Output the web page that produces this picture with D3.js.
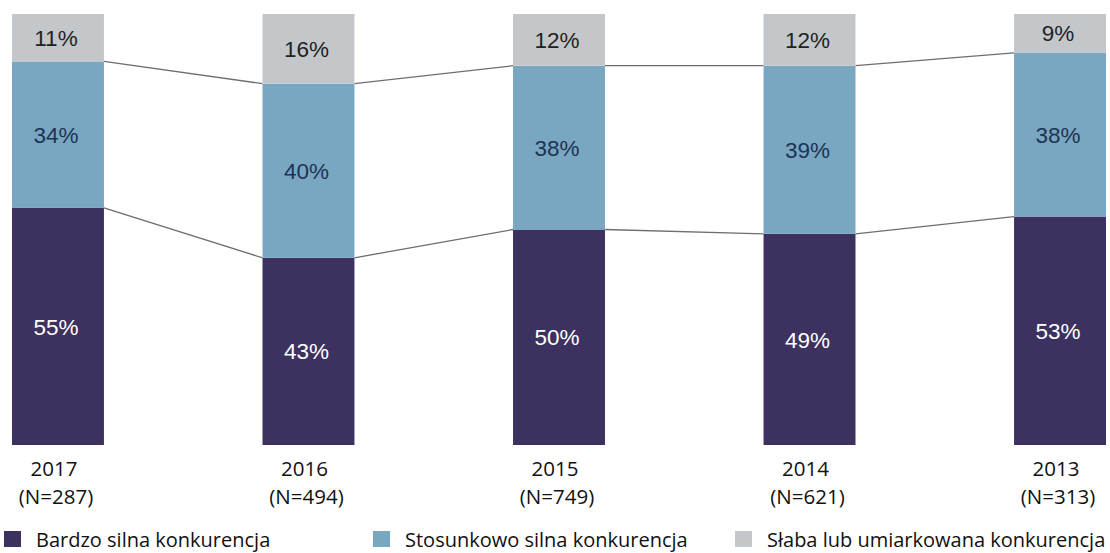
<!DOCTYPE html>
<html>
<head>
<meta charset="utf-8">
<script src="https://cdn.jsdelivr.net/npm/d3@7"></script>
<style>
  html, body { margin: 0; padding: 0; background: #fff; }
  svg { display: block; }
</style>
</head>
<body>
<svg id="chart" width="1110" height="553"></svg>
<script>
// Survey years and sample sizes
const years = ["2017", "2016", "2015", "2014", "2013"];
const sampleSizes = ["(N=287)", "(N=494)", "(N=749)", "(N=621)", "(N=313)"];

// Share of answers per competition level (%)
const veryStrong = [55, 43, 50, 49, 53];
const fairlyStrong = [34, 40, 38, 39, 38];
const weakOrModerate = [11, 16, 12, 12, 9];

const seriesNames = ["Bardzo silna konkurencja", "Stosunkowo silna konkurencja", "Słaba lub umiarkowana konkurencja"];
const seriesColors = ["#3d3160", "#79a7c1", "#c4c7ca"];
const labelColors = ["#ffffff", "#1d3354", "#222222"];

const keys = ["veryStrong", "fairlyStrong", "weakOrModerate"];
const rows = years.map((y, i) => ({
  year: y,
  veryStrong: veryStrong[i],
  fairlyStrong: fairlyStrong[i],
  weakOrModerate: weakOrModerate[i]
}));

const svg = d3.select("#chart");

const x = d3.scaleBand()
  .domain(years)
  .range([12, 1106])
  .paddingInner(0.633)
  .paddingOuter(0);

const y = d3.scaleLinear().domain([0, 1]).range([445, 14]);

// 100% stacked columns
const stacked = d3.stack().keys(keys).offset(d3.stackOffsetExpand)(rows);

// Connector lines between adjacent columns at segment boundaries
const connectors = [];
[0, 1].forEach(level => {
  for (let i = 0; i < rows.length - 1; i++) {
    connectors.push({
      x1: x(rows[i].year) + x.bandwidth(),
      y1: y(stacked[level][i][1]),
      x2: x(rows[i + 1].year),
      y2: y(stacked[level][i + 1][1])
    });
  }
});

svg.append("g")
  .selectAll("line")
  .data(connectors)
  .join("line")
  .attr("x1", d => d.x1).attr("y1", d => d.y1)
  .attr("x2", d => d.x2).attr("y2", d => d.y2)
  .attr("stroke", "#6e6e6e")
  .attr("stroke-width", 1.3);

const layers = svg.append("g")
  .selectAll("g")
  .data(stacked)
  .join("g")
  .attr("fill", (d, i) => seriesColors[i]);

layers.selectAll("rect")
  .data(d => d)
  .join("rect")
  .attr("x", d => x(d.data.year))
  .attr("width", x.bandwidth())
  .attr("y", d => y(d[1]))
  .attr("height", d => y(d[0]) - y(d[1]));

// Percentage labels inside each segment
const labelLayers = svg.append("g")
  .selectAll("g")
  .data(stacked)
  .join("g")
  .attr("fill", (d, i) => labelColors[i]);

labelLayers.selectAll("text")
  .data(d => d.map(v => ({ v, key: d.key })))
  .join("text")
  .attr("x", d => x(d.v.data.year) + x.bandwidth() / 2 - 2)
  .attr("y", d => (y(d.v[0]) + y(d.v[1])) / 2)
  .attr("dy", "0.36em")
  .attr("text-anchor", "middle")
  .style("font-family", "'Liberation Sans', Arial, sans-serif")
  .style("font-size", "22.5px")
  .text(d => d.v.data[d.key] + "%");

// Category axis: year and sample size
const axis = svg.append("g")
  .attr("transform", "translate(0,445)")
  .call(d3.axisBottom(x).tickSize(0).tickFormat(""));
axis.select(".domain").remove();

axis.selectAll(".tick").each(function(d, i) {
  const t = d3.select(this).append("text")
    .attr("fill", "#111")
    .attr("text-anchor", "middle")
    .style("font-family", "'Open Sans', 'Noto Sans', sans-serif")
    .style("font-size", "20.5px");
  t.append("tspan").attr("x", -4).attr("y", 31).text(d);
  t.append("tspan").attr("x", -2).attr("y", 59).text(sampleSizes[i]);
});

// Legend
const legendX = [4, 373, 735];
const legend = svg.append("g")
  .selectAll("g")
  .data(seriesNames)
  .join("g")
  .attr("transform", (d, i) => `translate(${legendX[i]},531)`);

legend.append("rect")
  .attr("width", 17).attr("height", 16)
  .attr("fill", (d, i) => seriesColors[i]);

legend.append("text")
  .attr("x", 32)
  .attr("y", 16)
  .attr("fill", "#111")
  .style("font-family", "'Open Sans', 'Noto Sans', sans-serif")
  .style("font-size", "20px")
  .text(d => d);
</script>
</body>
</html>
